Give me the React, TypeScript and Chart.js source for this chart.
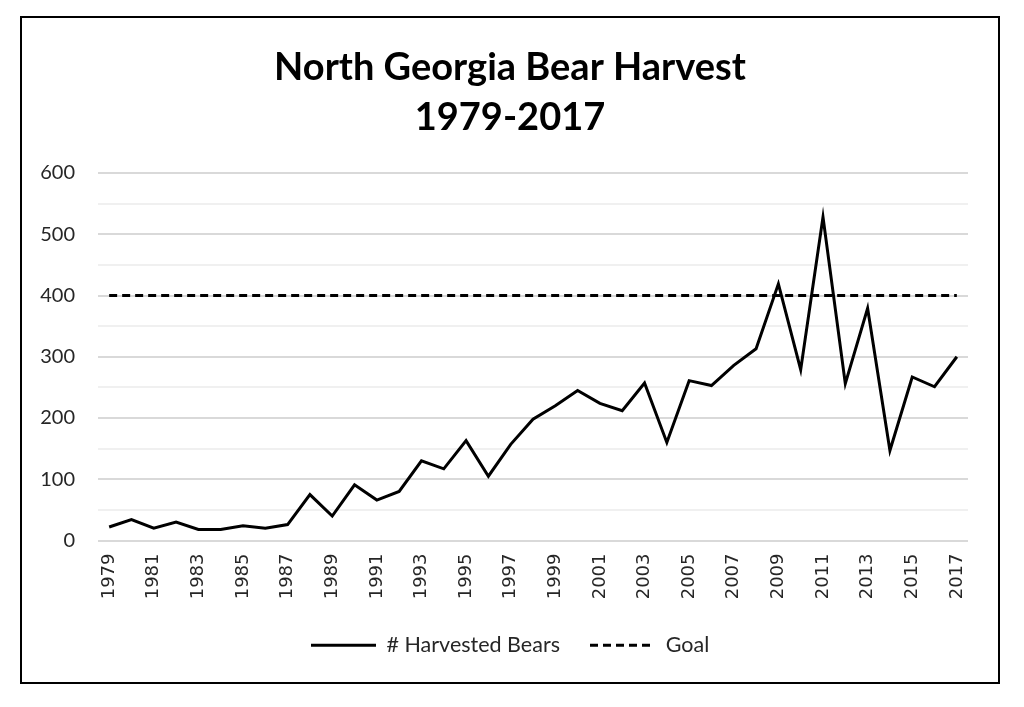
import React, { useEffect, useRef } from "react";
import { Chart, registerables } from "chart.js";

Chart.register(...registerables);

const years: string[] = [
  "1979", "1980", "1981", "1982", "1983", "1984", "1985", "1986", "1987", "1988",
  "1989", "1990", "1991", "1992", "1993", "1994", "1995", "1996", "1997", "1998",
  "1999", "2000", "2001", "2002", "2003", "2004", "2005", "2006", "2007", "2008",
  "2009", "2010", "2011", "2012", "2013", "2014", "2015", "2016", "2017",
];

const harvestedBears: number[] = [
  22, 34, 20, 30, 18, 18, 24, 20, 26, 75,
  40, 91, 66, 80, 130, 117, 163, 105, 157, 198,
  220, 245, 224, 212, 257, 160, 261, 253, 286, 313,
  419, 279, 528, 256, 379, 147, 267, 251, 300,
];

const goal: number[] = [
  400, 400, 400, 400, 400, 400, 400, 400, 400, 400,
  400, 400, 400, 400, 400, 400, 400, 400, 400, 400,
  400, 400, 400, 400, 400, 400, 400, 400, 400, 400,
  400, 400, 400, 400, 400, 400, 400, 400, 400,
];

const titleLines: string[] = ["North Georgia Bear Harvest", "1979-2017"];
const seriesNames: string[] = ["# Harvested Bears", "Goal"];

function makeLegendLine(dash: number[]): HTMLCanvasElement {
  const c = document.createElement("canvas");
  c.width = 65;
  c.height = 5;
  const g = c.getContext("2d");
  if (g) {
    g.strokeStyle = "#000000";
    g.lineWidth = 3;
    g.lineCap = "butt";
    g.setLineDash(dash);
    g.beginPath();
    g.moveTo(0, 2.5);
    g.lineTo(65, 2.5);
    g.stroke();
  }
  return c;
}

export default function App() {
  const canvasRef = useRef<HTMLCanvasElement | null>(null);

  useEffect(() => {
    if (!canvasRef.current) return;
    const solidIcon = makeLegendLine([]);
    const dashIcon = makeLegendLine([8, 5]);
    const chart = new Chart(canvasRef.current, {
      type: "line",
      data: {
        labels: years,
        datasets: [
          {
            label: seriesNames[0],
            data: harvestedBears,
            borderColor: "#000000",
            backgroundColor: "#000000",
            borderWidth: 3,
            pointRadius: 0,
            tension: 0,
            pointStyle: solidIcon as any,
          },
          {
            label: seriesNames[1],
            data: goal,
            borderColor: "#000000",
            backgroundColor: "#000000",
            borderWidth: 3,
            borderDash: [8, 5],
            pointRadius: 0,
            tension: 0,
            pointStyle: dashIcon as any,
          },
        ],
      },
      options: {
        responsive: false,
        animation: false,
        layout: { padding: { left: 0, right: 0, top: 0, bottom: 16 } },
        plugins: {
          title: {
            display: true,
            text: titleLines,
            color: "#000000",
            font: { family: "Lato", size: 38, weight: "bold", lineHeight: 1.3158 },
            padding: { top: 25, bottom: 30 },
          },
          legend: {
            position: "bottom",
            labels: {
              usePointStyle: true,
              pointStyleWidth: 65,
              color: "#262626",
              font: { family: "Lato", size: 21.5 },
              padding: 30,
            },
          },
          tooltip: { enabled: false },
        },
        scales: {
          x: {
            offset: true,
            grid: { display: false, drawTicks: false },
            border: { display: false },
            afterFit: (scale: any) => {
              scale.height = 64;
            },
            ticks: {
              autoSkip: false,
              minRotation: 90,
              maxRotation: 90,
              padding: 13,
              color: "#262626",
              font: { family: "DejaVu Sans", size: 18 },
              callback: function (this: any, _v: any, index: number) {
                return index % 2 === 0 ? years[index] : "";
              },
            },
          },
          y: {
            min: 0,
            max: 600,
            grid: {
              drawTicks: false,
              lineWidth: 2,
              color: (ctx: any) =>
                ctx.tick && ctx.tick.value % 100 === 0 ? "#d9d9d9" : "#f0f0f0",
            },
            border: { display: false },
            afterFit: (scale: any) => {
              scale.width = 76;
            },
            ticks: {
              stepSize: 50,
              padding: 23,
              color: "#262626",
              font: { family: "Lato", size: 20 },
              callback: (v: any) => (Number(v) % 100 === 0 ? String(v) : ""),
            },
          },
          yRightSpace: {
            position: "right",
            min: 0,
            max: 600,
            grid: { display: false, drawTicks: false },
            border: { display: false },
            ticks: { display: false },
            afterFit: (scale: any) => {
              scale.width = 30;
            },
          },
        },
      },
    });
    return () => chart.destroy();
  }, []);

  return (
    <div
      style={{
        position: "absolute",
        left: 20,
        top: 16,
        width: 980,
        height: 668,
        border: "2px solid #000",
        boxSizing: "border-box",
        background: "#fff",
      }}
    >
      <canvas ref={canvasRef} width={976} height={664} style={{ display: "block" }} />
    </div>
  );
}
